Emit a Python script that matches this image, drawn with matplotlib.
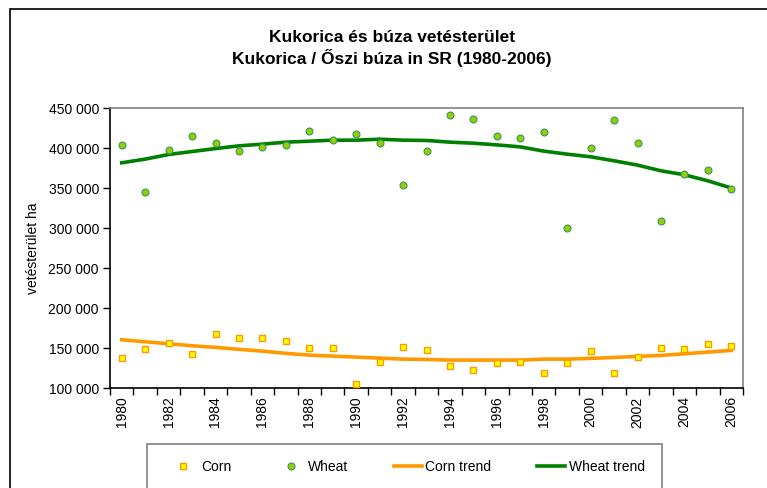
import numpy as np
import matplotlib.pyplot as plt
from matplotlib.patches import Rectangle
from matplotlib.ticker import FuncFormatter, FixedLocator

plt.rcParams['font.family'] = ['Liberation Sans', 'DejaVu Sans']

years = list(range(1980, 2007))

corn = [137750, 148600, 156000, 142000, 167600, 163100, 163100, 158200, 149800,
        149800, 105000, 132400, 151000, 147300, 127000, 122800, 130800, 132000,
        118700, 130800, 145700, 118700, 139000, 149800, 148600, 155200, 152300]
wheat = [403500, 345400, 398000, 414700, 406000, 396400, 401000, 403500, 421300,
         410100, 417200, 406000, 353700, 396400, 441700, 436300, 414700, 413100,
         419700, 300500, 399400, 434700, 406000, 308800, 367400, 372400, 348700]
corn_trend = [160300, 157800, 155300, 152800, 150800, 148300, 146100, 143300, 141100,
              139900, 138600, 137400, 136100, 135700, 134900, 134900, 134900, 134900,
              136100, 136100, 137000, 138200, 139500, 140700, 142800, 144900, 147000]
wheat_trend = [381500, 386100, 391900, 395600, 399300, 402700, 404800, 407300, 408500,
               409800, 409800, 411000, 409800, 409400, 407300, 406000, 403900, 401400,
               396100, 392300, 389000, 384000, 378600, 371500, 366500, 359000, 350000]

W, H = 767, 488
fig = plt.figure(figsize=(W / 100, H / 100), dpi=100)

# outer chart frame (runs off the right and bottom edges)
fig.patches.append(Rectangle((10 / W, -0.1), 1.1, 1.1 - 9 / H,
                             transform=fig.transFigure, fill=False,
                             edgecolor='black', linewidth=1.2))

ax = fig.add_axes([110 / W, 1 - 388 / H, (743 - 110) / W, (388 - 108) / H])
x = np.arange(len(years))

ax.plot(x, corn_trend, color='#FF9900', lw=2.6, label='Corn trend', zorder=2)
ax.plot(x, wheat_trend, color='#008000', lw=2.6, label='Wheat trend', zorder=2)
ax.plot(x, corn, ls='none', marker='s', ms=5, mfc='#FFFF00', mec='#FF9900',
        mew=1.0, label='Corn', zorder=3)
ax.plot(x, wheat, ls='none', marker='o', ms=5, mfc='#99CC00', mec='#339966',
        mew=0.8, label='Wheat', zorder=3)

ax.set_xlim(-0.5, len(years) - 0.5)
ax.set_ylim(100000, 450000)
ax.set_yticks(np.arange(100000, 450001, 50000))
ax.yaxis.set_major_formatter(FuncFormatter(lambda v, p: f'{int(v):,}'.replace(',', ' ')))

ax.set_xticks(x[::2])
ax.set_xticklabels([str(y) for y in years[::2]], rotation=90)
ax.xaxis.set_minor_locator(FixedLocator(np.arange(-0.5, len(years), 1)))
ax.tick_params(axis='x', which='major', length=0, labelsize=10, pad=6)
ax.tick_params(axis='x', which='minor', length=5, width=1, color='black')
ax.tick_params(axis='y', length=5, width=1, labelsize=10, pad=3)

for s in ['top', 'right']:
    ax.spines[s].set_color('#808080')
for s in ['left', 'bottom']:
    ax.spines[s].set_color('black')
for s in ax.spines.values():
    s.set_linewidth(1.2)

ax.set_ylabel('vetésterület ha', fontsize=10)
ax.yaxis.set_label_coords(-(110 - 40) / (743 - 110), 0.5)

fig.text(0.511, 1 - 37 / H, 'Kukorica és búza vetésterület', ha='center', va='center',
         fontsize=12.5, fontweight='bold')
fig.text(0.511, 1 - 58 / H, 'Kukorica / Őszi búza in SR (1980-2006)', ha='center',
         va='center', fontsize=12.5, fontweight='bold')

# legend box (runs off the bottom edge)
fig.patches.append(Rectangle((147 / W, -0.1), (662 - 147) / W, 0.1 + 1 - 444 / H,
                             transform=fig.transFigure, fill=False,
                             edgecolor='#808080', linewidth=1.2))
h, l = ax.get_legend_handles_labels()
order = [2, 3, 0, 1]
fig.legend([h[i] for i in order], [l[i] for i in order], ncol=4, frameon=False,
           loc='center', bbox_to_anchor=(407 / W, 1 - 467 / H), fontsize=10,
           handlelength=2.0, columnspacing=3.3, handletextpad=0.25)

fig.savefig('out.png', dpi=100)
